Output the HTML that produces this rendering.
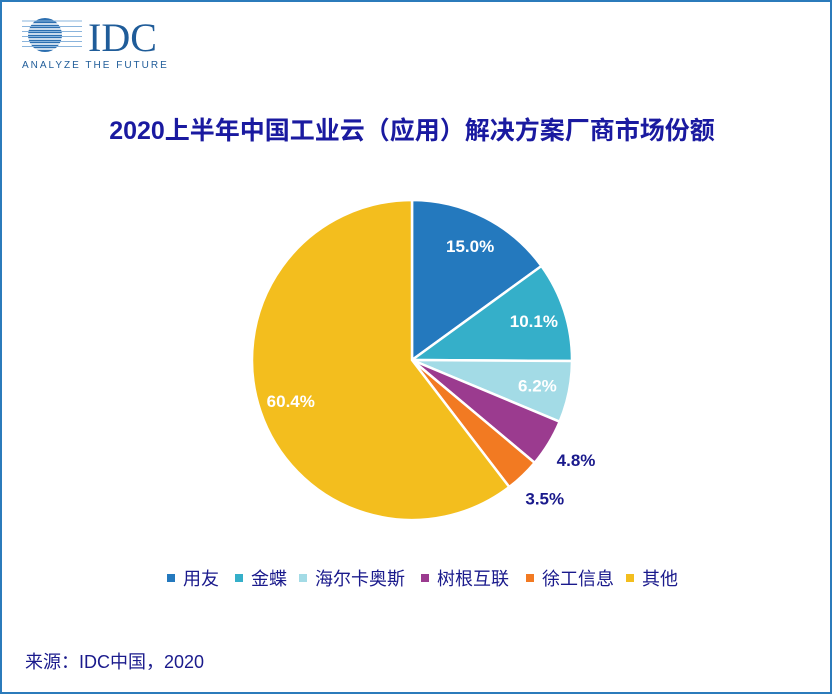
<!DOCTYPE html>
<html><head><meta charset="utf-8"><style>
body{margin:0;width:832px;height:694px;overflow:hidden;background:#fff;font-family:"Liberation Sans","Noto Sans CJK SC",sans-serif}
#frame{position:absolute;left:0;top:0;width:828px;height:690px;border:2px solid #2b7bbb}
</style></head><body>
<div id="frame"></div>
<svg width="832" height="694" style="position:absolute;left:0;top:0">
<g>
<circle cx="45" cy="35" r="17" fill="#2c6fb0"/>
<g stroke="#fff" stroke-width="1.5"><line x1="20" y1="24" x2="82" y2="24"/><line x1="20" y1="29" x2="82" y2="29"/><line x1="20" y1="34" x2="82" y2="34"/><line x1="20" y1="39" x2="82" y2="39"/><line x1="20" y1="44" x2="82" y2="44"/><line x1="20" y1="49" x2="82" y2="49"/></g>
<g stroke="#8ab4dc" stroke-width="1"><line x1="22" y1="21" x2="82" y2="21"/><line x1="22" y1="26.5" x2="82" y2="26.5"/><line x1="22" y1="31.5" x2="82" y2="31.5"/><line x1="22" y1="36.5" x2="82" y2="36.5"/><line x1="22" y1="41.5" x2="82" y2="41.5"/><line x1="22" y1="46.5" x2="82" y2="46.5"/></g>
<text x="88" y="51" font-family="Liberation Serif" font-size="40" fill="#1f5c99">IDC</text>
<text x="22" y="68" font-size="10" letter-spacing="2" fill="#1f5c99">ANALYZE THE FUTURE</text>
</g>
<text x="412" y="139" text-anchor="middle" font-size="25" font-weight="bold" fill="#1a1aa0">2020上半年中国工业云（应用）解决方案厂商市场份额</text>
<g id="pie"></g>
<g id="legend"></g>
<text x="25" y="668" font-size="18" fill="#1a1a8c">来源：IDC中国，2020</text>
</svg>
<script>
const categories=["用友","金蝶","海尔卡奥斯","树根互联","徐工信息","其他"];
const values=[15.0,10.1,6.2,4.8,3.5,60.4];
const labels=["15.0%","10.1%","6.2%","4.8%","3.5%","60.4%"];
const colors=["#2479be","#35afc9","#a3dbe6","#9b3b8f","#f27a22","#f3be1e"];
const ns="http://www.w3.org/2000/svg";
const cx=412,cy=360,R=160;
const pie=document.getElementById('pie');
const total=values.reduce((a,b)=>a+b,0);
function pt(a,r){return [cx+r*Math.sin(a),cy-r*Math.cos(a)];}
let cum=0;
values.forEach((v,i)=>{
 const a0=cum/total*2*Math.PI;cum+=v;const a1=cum/total*2*Math.PI;
 const p0=pt(a0,R),p1=pt(a1,R);
 const p=document.createElementNS(ns,'path');
 p.setAttribute('d',`M${cx},${cy}L${p0[0]},${p0[1]}A${R},${R} 0 ${a1-a0>Math.PI?1:0} 1 ${p1[0]},${p1[1]}Z`);
 p.setAttribute('fill',colors[i]);p.setAttribute('stroke','#fff');p.setAttribute('stroke-width','2.5');
 
 
 pie.appendChild(p);
 const am=(a0+a1)/2;const outside=v<5;
 const lp=pt(am,outside?R*1.2:R*0.8);
 const t=document.createElementNS(ns,'text');
 t.setAttribute('x',lp[0]);t.setAttribute('y',lp[1]+6);t.setAttribute('text-anchor','middle');
 t.setAttribute('font-size','17');t.setAttribute('font-weight','bold');
 t.setAttribute('fill',outside?'#1a1a8c':'#fff');t.textContent=labels[i];
 
 
 pie.appendChild(t);
});
const leg=document.getElementById('legend');
const lx=[167,235,299,421,526,626];
categories.forEach((c,i)=>{
 const g=document.createElementNS(ns,'g');
 
 
 const r=document.createElementNS(ns,'rect');
 r.setAttribute('x',lx[i]);r.setAttribute('y',574);r.setAttribute('width',8);r.setAttribute('height',8);r.setAttribute('fill',colors[i]);
 const t=document.createElementNS(ns,'text');
 t.setAttribute('x',lx[i]+16);t.setAttribute('y',585);t.setAttribute('font-size','18');t.setAttribute('fill','#1a1a8c');t.textContent=c;
 g.appendChild(r);g.appendChild(t);leg.appendChild(g);
});
</script>
</body></html>
